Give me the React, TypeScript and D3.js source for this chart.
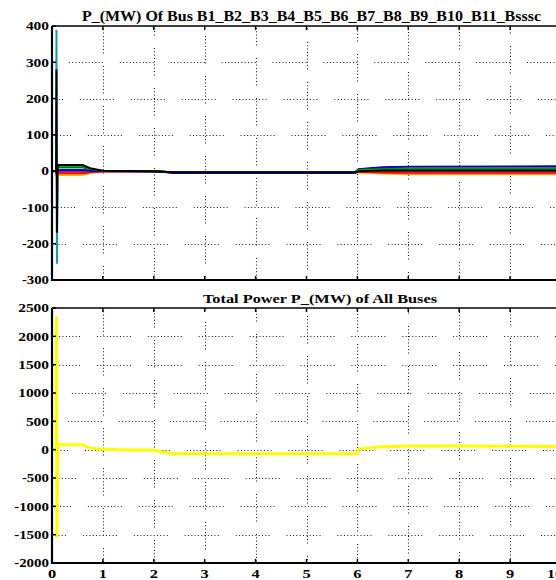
import React from "react";
import * as d3 from "d3";

// ---------- data ----------
const xTicks = [0, 1, 2, 3, 4, 5, 6, 7, 8, 9, 10];
const topYTicks = [-300, -200, -100, 0, 100, 200, 300, 400];
const botYTicks = [-2000, -1500, -1000, -500, 0, 500, 1000, 1500, 2000, 2500];

const busNames = ["B1", "B2", "B3", "B4", "B5", "B6", "B7", "B8", "B9", "B10", "B11", "Bsssc"];
const busTime = [0, 0.08, 0.088, 0.097, 0.11, 0.6, 0.75, 1.0, 2.0, 2.4, 4, 5.95, 6.02, 6.5, 7, 10.5];
const busB1 = [0, 0, 280, -170, 17, 17, 8, 1, 0, -3, -3, -3, 0, 2, 2, 2];
const busB2 = [0, 0, 390, -255, 4, 4, 2, 0, 0, -3, -3, -3, 1, 3, 3, 3];
const busB3 = [0, 0, 20, -20, 13, 13, 6, 1, 0, -3, -3, -3, 3, 5, 6, 6];
const busB4 = [0, 0, 15, -15, 10, 10, 5, 1, 0, -3, -3, -3, 4, 7, 8, 8];
const busB5 = [0, 0, 10, -10, 3, 3, 1, 0, -1, -5, -5, -5, 6, 11, 13, 14];
const busB6 = [0, 0, 10, -10, 2, 2, 1, 0, -1, -4, -4, -4, 5, 10, 12, 12];
const busB7 = [0, 0, -10, 10, -5, -5, -3, -1, 0, -4, -4, -4, -2, -4, -5, -5];
const busB8 = [0, 0, -10, 10, -4, -4, -2, -1, 0, -3, -3, -3, -1, -3, -4, -4];
const busB9 = [0, 0, -15, 15, -10, -10, -5, -1, 0, -5, -5, -5, -3, -6, -8, -8];
const busB10 = [0, 0, -15, 15, -11, -11, -5, -1, 0, -5, -5, -5, -4, -7, -9, -9];
const busB11 = [0, 0, -10, 10, -6, -6, -3, -1, 0, -4, -4, -4, -2, -3, -3, -3];
const busBsssc = [0, 0, 5, -5, -2, -2, -1, 0, 0, -3, -3, -3, 0, 0, 0, 0];

const totalTime = [0, 0.08, 0.088, 0.097, 0.11, 0.6, 0.7, 0.9, 1.5, 2.0, 2.15, 2.4, 4, 5.98, 6.03, 6.4, 7, 8, 9, 10.5];
const totalP = [0, 0, 2350, -1550, 85, 85, 45, 10, -5, -5, -40, -70, -72, -72, 15, 45, 65, 65, 60, 55];

const busSeries = [busB2, busB10, busB9, busBsssc, busB11, busB8, busB7, busB6, busB5, busB4, busB3, busB1];
const busColors = ["#1a9c9e", "#e0e000", "#ff8c00", "#8b4513", "#8b0000", "#ff40ff", "#ff0000", "#000080", "#0000e0", "#006400", "#00b000", "#000000"];

// ---------- layout ----------
const W = 556, H = 580;
const left = 52, right = 561;
const top1 = 26, bot1 = 280;
const top2 = 308, bot2 = 563;

const x = d3.scaleLinear().domain([0, 10]).range([left, right]);
const y1 = d3.scaleLinear().domain([-300, 400]).range([bot1, top1]);
const y2 = d3.scaleLinear().domain([-2000, 2500]).range([bot2, top2]);

function dotDash(seg: number, period: number) {
  const step = 3.3;
  const n = Math.floor(seg / step) + 1;
  const parts: number[] = [];
  for (let i = 0; i < n - 1; i++) parts.push(1, step - 1);
  parts.push(1, period - (n - 1) * step - 1);
  return parts.join(" ");
}

const hOffTop: Record<number, number> = { 300: 34, 200: 23, 100: 15, 0: 25, [-100]: 11, [-200]: 20 };
const hOffBot: Record<number, number> = { 2000: 6, 1500: 6, 1000: 31, 500: 35, 0: 18, [-500]: 10, [-1000]: 15, [-1500]: 20 };
const vOffTop = [0, 18, 30, 8, 24, 12, 34, 4, 20, 28];
const vOffBot = [0, 8, 26, 14, 32, 4, 22, 36, 10, 18];

const FONT = "'Liberation Serif', 'Times New Roman', serif";

function labelLen(t: number) {
  const s = String(t);
  let w = 0;
  for (const c of s) w += c === "-" ? 4 : 7.7;
  return w;
}

function Grid({ y, yTicks, hOff, vOff, top, bot }: any) {
  const hd = dotDash(33, x(1) - x(0));
  const vd = dotDash(28, 40);
  return (
    <g stroke="#1a1a1a" strokeWidth={1.1}>
      {yTicks.slice(1, -1).map((t: number) => (
        <line key={"h" + t} x1={left} x2={W} y1={Math.round(y(t)) + 0.5} y2={Math.round(y(t)) + 0.5}
          strokeDasharray={hd} strokeDashoffset={hOff[t] ?? 0} />
      ))}
      {xTicks.slice(1).map((t: number, i: number) => (
        <line key={"v" + t} x1={Math.round(x(t)) + 0.5} x2={Math.round(x(t)) + 0.5} y1={top} y2={bot}
          strokeDasharray={vd} strokeDashoffset={vOff[i]} />
      ))}
    </g>
  );
}

function Frame({ y, yTicks, top, bot, showX }: any) {
  return (
    <g>
      <line x1={left} x2={W} y1={top} y2={top} stroke="#000" strokeWidth={1.5} />
      <line x1={left} x2={W} y1={bot} y2={bot} stroke="#000" strokeWidth={2.2} />
      <line x1={left} x2={left} y1={top} y2={bot + 1} stroke="#000" strokeWidth={2.2} />
      {xTicks.map((t) => (
        <g key={t}>
          <line x1={x(t)} x2={x(t)} y1={top} y2={top + 4} stroke="#000" strokeWidth={1.5} />
          <line x1={x(t)} x2={x(t)} y1={bot} y2={bot - 4} stroke="#000" strokeWidth={1.5} />
        </g>
      ))}
      {yTicks.map((t: number) => (
        <g key={t}>
          <line x1={left} x2={left + 4} y1={y(t)} y2={y(t)} stroke="#000" strokeWidth={1.5} />
          <text x={49} y={y(t)} dy="0.34em" textAnchor="end" textLength={labelLen(t)} lengthAdjust="spacingAndGlyphs"
            fontFamily={FONT} fontWeight="bold" fontSize={12.5}>
            {t}
          </text>
        </g>
      ))}
      {showX && xTicks.map((t, i) => (
        <text key={"xl" + t} x={x(t)} dx={i === xTicks.length - 1 ? -6 : 0} y={578} textAnchor="middle"
          textLength={labelLen(t) + 0.5} lengthAdjust="spacingAndGlyphs"
          fontFamily={FONT} fontWeight="bold" fontSize={13.5}>
          {t}
        </text>
      ))}
    </g>
  );
}

export default function App() {
  const line1 = d3.line<number>().x((_, i) => x(busTime[i])).y((d) => y1(d));
  const line2 = d3.line<number>().x((_, i) => x(totalTime[i])).y((d) => y2(d));
  return (
    <svg width={W} height={H} style={{ position: "absolute", left: 0, top: 0, background: "#fff" }}>
      <defs>
        <clipPath id="c1"><rect x={left} y={top1} width={W - left} height={bot1 - top1} /></clipPath>
        <clipPath id="c2"><rect x={left} y={top2} width={W - left} height={bot2 - top2} /></clipPath>
      </defs>
      <rect x={0} y={0} width={W} height={H} fill="#fff" />

      <text x={82} y={21} textLength={459} lengthAdjust="spacingAndGlyphs" fontFamily={FONT} fontWeight="bold" fontSize={14.5}>
        P_(MW) Of Bus {busNames.join("_")}
      </text>
      <text x={203} y={303} textLength={234} lengthAdjust="spacingAndGlyphs" fontFamily={FONT} fontWeight="bold" fontSize={13.5}>
        Total Power P_(MW) of All Buses
      </text>

      <Grid y={y1} yTicks={topYTicks} hOff={hOffTop} vOff={vOffTop} top={top1} bot={bot1} />
      <Grid y={y2} yTicks={botYTicks} hOff={hOffBot} vOff={vOffBot} top={top2} bot={bot2} />

      <g clipPath="url(#c1)" fill="none">
        {busSeries.map((s, i) => (
          <path key={i} d={line1(s) || ""} stroke={busColors[i]} strokeWidth={i === 0 || i === busSeries.length - 1 ? 2 : 1.6} />
        ))}
      </g>
      <g clipPath="url(#c2)" fill="none">
        <path d={line2(totalP) || ""} stroke="#ffff00" strokeWidth={3} />
      </g>

      <Frame y={y1} yTicks={topYTicks} top={top1} bot={bot1} showX={false} />
      <Frame y={y2} yTicks={botYTicks} top={top2} bot={bot2} showX={true} />
    </svg>
  );
}
